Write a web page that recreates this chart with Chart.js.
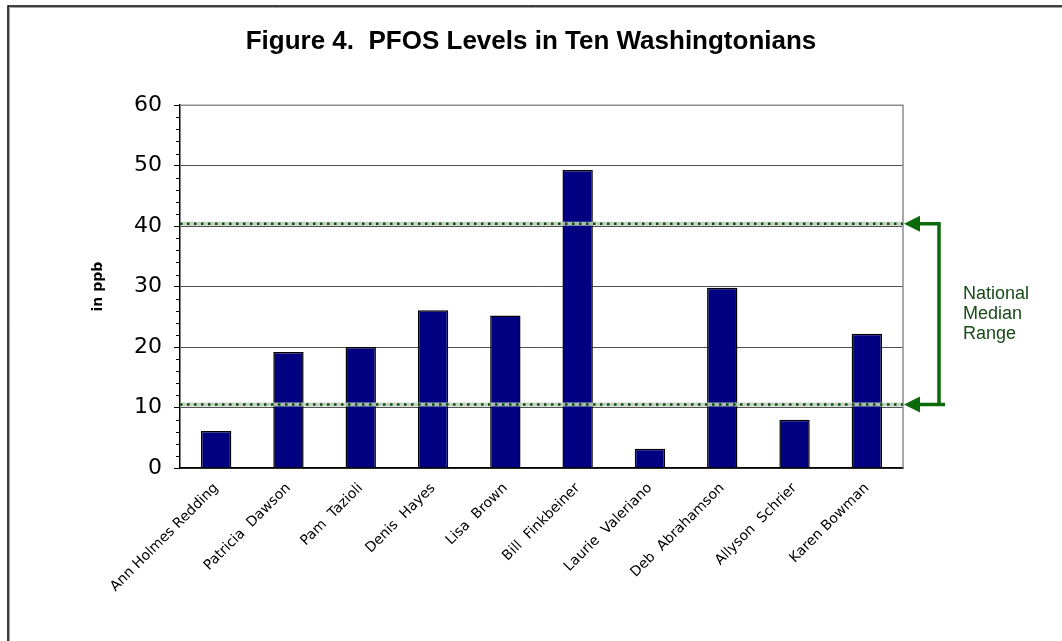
<!DOCTYPE html>
<html>
<head>
<meta charset="utf-8">
<script src="https://cdn.jsdelivr.net/npm/chart.js@4/dist/chart.umd.min.js"></script>
<style>
  html, body { margin: 0; padding: 0; background: #fff; }
  #wrap { width: 1062px; height: 641px; }
</style>
</head>
<body>
<div id="wrap"><canvas id="pfosChart"></canvas></div>
<script>
const people = ["Ann Holmes Redding", "Patricia  Dawson", "Pam  Tazioli", "Denis  Hayes", "Lisa  Brown",
    "Bill  Finkbeiner", "Laurie  Valeriano", "Deb  Abrahamson", "Allyson  Schrier", "Karen Bowman"];
const pfosLevels = [6.1, 19.2, 20.0, 26.1, 25.2, 49.3, 3.2, 29.8, 8.0, 22.2];
const yTicks = [0, 10, 20, 30, 40, 50, 60];
const medianRange = [10.5, 40.4];
const rangeLabel = ["National", "Median", "Range"];

// frame, plot border, minor ticks, median lines and the arrow bracket
const extras = {
    id: "extras",
    beforeDatasetsDraw(chart) {
        const { ctx, chartArea: a } = chart;
        ctx.save();
        ctx.strokeStyle = "#8c8c8c";
        ctx.lineWidth = 1.5;
        ctx.beginPath();
        ctx.moveTo(a.left, a.top);
        ctx.lineTo(a.right, a.top);
        ctx.lineTo(a.right, a.bottom);
        ctx.stroke();
        ctx.restore();
    },
    afterDatasetsDraw(chart) {
        const { ctx, chartArea: a, scales: { y } } = chart;
        ctx.save();
        // minor ticks
        ctx.strokeStyle = "#000";
        ctx.lineWidth = 1;
        for (let v = 0; v < 60; v += 2) {
            if (v % 10 === 0) continue;
            const py = Math.round(y.getPixelForValue(v)) + 0.5;
            ctx.beginPath();
            ctx.moveTo(a.left - 4, py);
            ctx.lineTo(a.left, py);
            ctx.stroke();
        }
        // median lines
        medianRange.forEach(v => {
            const py = y.getPixelForValue(v);
            ctx.strokeStyle = "rgba(190,205,190,0.9)";
            ctx.lineWidth = 4;
            ctx.setLineDash([]);
            ctx.beginPath();
            ctx.moveTo(a.left, py);
            ctx.lineTo(a.right, py);
            ctx.stroke();
            ctx.strokeStyle = "#0b4d0b";
            ctx.lineWidth = 2.5;
            ctx.setLineDash([2.5, 4.5]);
            ctx.beginPath();
            ctx.moveTo(a.left, py);
            ctx.lineTo(a.right, py);
            ctx.stroke();
        });
        ctx.setLineDash([]);
        // bracket
        const top = y.getPixelForValue(medianRange[1]);
        const bot = y.getPixelForValue(medianRange[0]);
        const bx = a.right + 36;
        ctx.strokeStyle = "#0a6a0a";
        ctx.fillStyle = "#0a6a0a";
        ctx.lineWidth = 3.5;
        ctx.beginPath();
        ctx.moveTo(bx, top - 1.5);
        ctx.lineTo(bx, bot + 1.5);
        ctx.moveTo(bx + 1.5, top);
        ctx.lineTo(a.right + 14, top);
        ctx.moveTo(bx + 6, bot);
        ctx.lineTo(a.right + 14, bot);
        ctx.stroke();
        [top, bot].forEach(py => {
            ctx.beginPath();
            ctx.moveTo(a.right + 1, py);
            ctx.lineTo(a.right + 17, py - 8);
            ctx.lineTo(a.right + 17, py + 8);
            ctx.closePath();
            ctx.fill();
        });
        ctx.fillStyle = "#174a17";
        ctx.font = "18px 'Liberation Sans', Arial, sans-serif";
        ctx.textBaseline = "middle";
        rangeLabel.forEach((t, i) => ctx.fillText(t, a.right + 60, (top + bot) / 2 - 20 + i * 20));
        ctx.restore();
    },
    afterDraw(chart) {
        const { ctx, width, height } = chart;
        ctx.save();
        ctx.strokeStyle = "#a0a0a0";
        ctx.lineWidth = 1;
        ctx.beginPath();
        ctx.moveTo(9.5, height);
        ctx.lineTo(9.5, 7.5);
        ctx.lineTo(width, 7.5);
        ctx.stroke();
        ctx.strokeStyle = "#000";
        ctx.lineWidth = 1.5;
        ctx.beginPath();
        ctx.moveTo(8, height);
        ctx.lineTo(8, 6);
        ctx.lineTo(width, 6);
        ctx.stroke();
        ctx.restore();
    }
};

new Chart(document.getElementById("pfosChart"), {
    type: "bar",
    data: {
        labels: people,
        datasets: [{
            data: pfosLevels,
            backgroundColor: "#000080",
            borderColor: "#000",
            borderWidth: 1.5,
            borderSkipped: "bottom",
            barPercentage: 0.42,
            categoryPercentage: 1
        }]
    },
    options: {
        responsive: true,
        maintainAspectRatio: false,
        animation: false,
        layout: { padding: { top: 8, right: 0, left: 0, bottom: 0 } },
        plugins: {
            legend: { display: false },
            tooltip: { enabled: false },
            title: {
                display: true,
                text: "Figure 4.  PFOS Levels in Ten Washingtonians",
                color: "#000",
                font: { family: "'Liberation Sans', Arial, sans-serif", size: 26, weight: "bold" },
                padding: { top: 18, bottom: 48 }
            }
        },
        scales: {
            x: {
                grid: { display: false },
                border: { color: "#000", width: 1.5 },
                ticks: {
                    color: "#000",
                    font: { family: "'DejaVu Sans', Verdana, sans-serif", size: 14 },
                    minRotation: 45,
                    maxRotation: 45,
                    autoSkip: false,
                    padding: 4
                },
                afterFit(scale) { scale.height = 173; }
            },
            y: {
                min: 0,
                max: 60,
                afterBuildTicks(scale) { scale.ticks = yTicks.map(v => ({ value: v })); },
                grid: { color: "#505050", lineWidth: 1, tickLength: 6, tickColor: "#000" },
                border: { color: "#000", width: 1.5 },
                ticks: {
                    color: "#000",
                    font: { family: "'DejaVu Sans', Verdana, sans-serif", size: 22 },
                    padding: 12
                },
                title: {
                    display: true,
                    text: "in ppb",
                    color: "#000",
                    font: { family: "'DejaVu Sans', Verdana, sans-serif", size: 14, weight: "bold" },
                    padding: { top: 90 }
                },
                afterFit(scale) { scale.width = 180; }
            },
            side: {
                position: "right",
                display: true,
                grid: { display: false, drawTicks: false },
                border: { display: false },
                ticks: { display: false },
                afterFit(scale) { scale.width = 159; }
            }
        }
    },
    plugins: [extras]
});
</script>
</body>
</html>
